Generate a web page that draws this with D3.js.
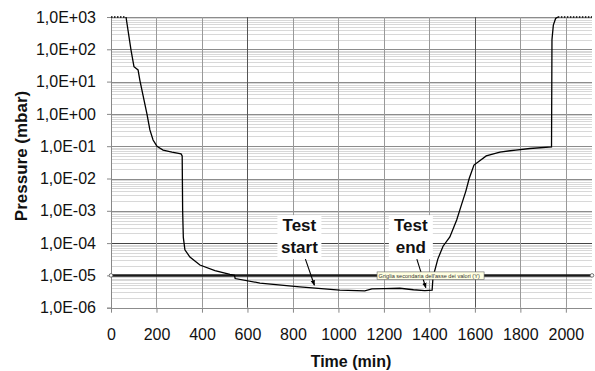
<!DOCTYPE html>
<html>
<head>
<meta charset="utf-8">
<script src="https://cdn.jsdelivr.net/npm/d3@7"></script>
<style>
  body { margin: 0; background: #fff; }
  text { font-family: "Liberation Sans", Arial, sans-serif; }
</style>
</head>
<body>
<div id="chart"></div>
<script>
// time (min) and pressure (mbar)
var times = [0, 66, 88, 101, 119, 127, 145, 158, 171, 185, 202, 229, 268, 308, 313, 315, 318, 325, 347, 391,
  457, 523, 543, 546, 655, 830, 1006, 1116, 1147, 1200, 1270, 1330, 1380, 1412, 1416, 1437, 1460, 1490,
  1520, 1543, 1560, 1575, 1596, 1650, 1710, 1780, 1842, 1937, 1939, 1945, 1955, 1965, 2115];
var pressures = [1e3, 1e3, 95, 29, 23, 11, 2.7, 1.0, 0.32, 0.155, 0.1, 0.076, 0.066, 0.058, 0.05, 1e-3, 1.5e-4, 6.2e-5, 3.7e-5, 2.1e-5,
  1.4e-5, 1.07e-5, 1.0e-5, 8e-6, 5.8e-6, 4.4e-6, 3.5e-6, 3.3e-6, 3.8e-6, 3.9e-6, 4.0e-6, 3.6e-6, 3.4e-6, 3.5e-6, 8.9e-6, 3.2e-5, 8e-5, 1.55e-4,
  5.2e-4, 1.7e-3, 4e-3, 1e-2, 2.6e-2, 5e-2, 6.6e-2, 7.6e-2, 8.5e-2, 9.5e-2, 200, 560, 900, 1e3, 1e3];
var xTicks = [0, 200, 400, 600, 800, 1000, 1200, 1400, 1600, 1800, 2000];
var yTicks = [1e-6, 1e-5, 1e-4, 1e-3, 1e-2, 1e-1, 1e0, 1e1, 1e2, 1e3];
var refLevel = 1e-5;
var annotations = [
  {lines: ["Test", "start"], t: 890, p: 4.3e-6},
  {lines: ["Test", "end"], t: 1380, p: 3.6e-6}
];

var fullWidth = 595, fullHeight = 371;
var margin = {top: 17, right: 3, bottom: 63.3, left: 111};
var width = fullWidth - margin.left - margin.right;
var height = fullHeight - margin.top - margin.bottom;

var data = times.map(function(t, i) { return {t: t, p: pressures[i]}; });

var x = d3.scaleLinear().domain([0, 2115]).range([0, width]);
var y = d3.scaleLog().domain([1e-6, 1e3]).range([height, 0]);

var svg = d3.select('#chart').append('svg')
  .attr('width', fullWidth).attr('height', fullHeight);

var defs = svg.append('defs');
defs.append('marker').attr('id', 'arr').attr('viewBox', '0 0 10 10')
  .attr('refX', 9).attr('refY', 5).attr('markerWidth', 5).attr('markerHeight', 5)
  .attr('orient', 'auto')
  .append('path').attr('d', 'M0,1 L10,5 L0,9 Z').attr('fill', '#000');

var g = svg.append('g').attr('transform', 'translate(' + margin.left + ',' + margin.top + ')');

// minor horizontal grid
var minor = [];
for (var e = -6; e < 3; e++) for (var m = 2; m <= 9; m++) minor.push(m * Math.pow(10, e));
g.selectAll('.minor').data(minor).enter().append('line')
  .attr('x1', 0).attr('x2', width)
  .attr('y1', function(d) { return Math.round(y(d)) + 0.5; })
  .attr('y2', function(d) { return Math.round(y(d)) + 0.5; })
  .attr('stroke', '#d8d8d8').attr('stroke-width', 1);

// major horizontal grid
g.selectAll('.major').data(yTicks).enter().append('line')
  .attr('x1', 0).attr('x2', width)
  .attr('y1', function(d) { return Math.round(y(d)) + 0.5; })
  .attr('y2', function(d) { return Math.round(y(d)) + 0.5; })
  .attr('stroke', function(d) { return d === 1e-4 ? '#444' : '#8c8c8c'; })
  .attr('stroke-width', 1);

// vertical grid
g.selectAll('.vgrid').data(xTicks.slice(1)).enter().append('line')
  .attr('y1', 0).attr('y2', height)
  .attr('x1', function(d) { return Math.round(x(d)) + 0.5; })
  .attr('x2', function(d) { return Math.round(x(d)) + 0.5; })
  .attr('stroke', function(d) { return (d === 600 || d === 1600) ? '#555' : '#999'; })
  .attr('stroke-width', 1);

// axes
var yAxis = d3.axisLeft(y).tickValues(yTicks).tickSize(4).tickPadding(11)
  .tickFormat(function(d) {
    var ex = Math.round(Math.log10(d));
    return '1,0E' + (ex < 0 ? '-' : '+') + (Math.abs(ex) < 10 ? '0' : '') + Math.abs(ex);
  });
var ya = g.append('g').call(yAxis);
ya.select('.domain').attr('stroke', '#888');
ya.selectAll('.tick line').attr('stroke', '#888');
ya.selectAll('text').attr('font-size', 16).attr('fill', '#111');

var xAxis = d3.axisBottom(x).tickValues(xTicks).tickSize(5).tickPadding(16).tickFormat(d3.format('d'));
var xa = g.append('g').attr('transform', 'translate(0,' + height + ')').call(xAxis);
xa.select('.domain').remove();
xa.selectAll('.tick line').attr('stroke', '#888');
xa.selectAll('text').attr('font-size', 16).attr('fill', '#111');

// reference line at 1E-05
g.append('line').attr('x1', 0).attr('x2', width)
  .attr('y1', y(refLevel)).attr('y2', y(refLevel))
  .attr('stroke', '#1a1a1a').attr('stroke-width', 2.5);
g.selectAll('.refdot').data([0, width]).enter().append('circle')
  .attr('cx', function(d) { return d; }).attr('cy', y(refLevel)).attr('r', 1.8)
  .attr('fill', '#fff').attr('stroke', '#555').attr('stroke-width', 0.8);

// pressure curve: solid part and saturated (dotted) parts
var line = d3.line().x(function(d) { return x(d.t); }).y(function(d) { return y(d.p); });
g.append('path').datum(data.slice(1, data.length - 1))
  .attr('d', line).attr('fill', 'none').attr('stroke', '#000').attr('stroke-width', 1.3);
g.append('path').datum(data.slice(0, 2))
  .attr('d', line).attr('fill', 'none').attr('stroke', '#000').attr('stroke-width', 1.3)
  .attr('stroke-dasharray', '1.5,1.5');
g.append('path').datum(data.slice(data.length - 2))
  .attr('d', line).attr('fill', 'none').attr('stroke', '#000').attr('stroke-width', 1.3)
  .attr('stroke-dasharray', '1.5,1.5');

// annotations
annotations.forEach(function(a) {
  var cx = x(a.t) - 14;
  var top = y(1e-4) - 27;
  g.append('rect').attr('x', cx - 22).attr('y', top - 1).attr('width', 44).attr('height', 44)
    .attr('fill', '#fff');
  a.lines.forEach(function(s, i) {
    g.append('text').attr('x', cx).attr('y', top + 15 + i * 22)
      .attr('text-anchor', 'middle').attr('font-size', 17).attr('font-weight', 'bold')
      .attr('fill', '#111').text(s);
  });
  g.append('line').attr('x1', cx + 6).attr('y1', top + 43)
    .attr('x2', x(a.t) + 1).attr('y2', y(a.p) - 2)
    .attr('stroke', '#000').attr('stroke-width', 1.1).attr('marker-end', 'url(#arr)');
});

// tooltip artifact
var tip = g.append('g').attr('transform', 'translate(' + (x(1170)) + ',' + (y(refLevel) - 3.5) + ')');
tip.append('rect').attr('width', 107).attr('height', 7.5)
  .attr('fill', '#ffffe1').attr('stroke', '#666').attr('stroke-width', 0.6);
tip.append('text').attr('x', 1.5).attr('y', 5.8).attr('font-size', 5.6).attr('fill', '#333')
  .text("Griglia secondaria dell'asse dei valori (Y)");

// axis titles
svg.append('text').attr('transform', 'translate(27,156) rotate(-90)')
  .attr('text-anchor', 'middle').attr('font-size', 17).attr('font-weight', 'bold').attr('fill', '#111')
  .text('Pressure (mbar)');
svg.append('text').attr('x', 351).attr('y', 367)
  .attr('text-anchor', 'middle').attr('font-size', 16).attr('font-weight', 'bold').attr('fill', '#111')
  .text('Time (min)');
</script>
</body>
</html>
